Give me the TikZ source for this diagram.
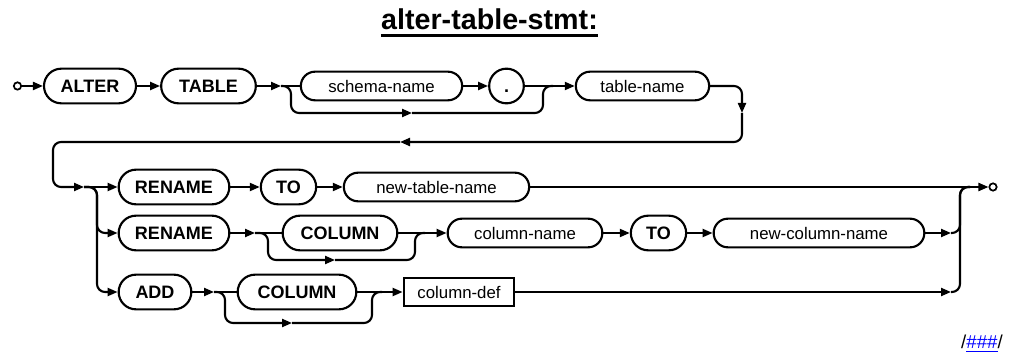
\documentclass[tikz,border=0pt]{standalone}
\usepackage{fontspec}
\setmainfont{Liberation Sans}
\usetikzlibrary{arrows.meta}

\tikzset{
  kw/.style={draw, line width=1.6pt, rounded corners=13pt, minimum height=26pt, inner sep=0pt,
    font=\fontsize{13.5}{16}\selectfont\bfseries},
  nt/.style={draw, line width=1.6pt, rounded corners=10.7pt, minimum height=21.5pt, inner sep=0pt,
    font=\fontsize{12.6}{15}\selectfont},
  ntbox/.style={draw, line width=1.6pt, minimum height=21.5pt, inner sep=0pt,
    font=\fontsize{12.6}{15}\selectfont},
  conn/.style={line width=1.6pt, rounded corners=6pt},
  tip/.style={-{Triangle[length=7.5pt,width=6pt]}},
  term/.style={circle, draw, line width=1.3pt, minimum size=5.5pt, inner sep=0pt}
}

\begin{document}
\begin{tikzpicture}[x=0.75pt,y=-0.75pt]
        \useasboundingbox (0,0) rectangle (1011,356);

        % Title
        \node[font=\fontsize{21.5}{26}\selectfont\bfseries, inner sep=0pt, anchor=base] (title) at (489.5,30) {alter-table-stmt:};
        \draw[line width=2.2pt] ([yshift=-3.8pt]title.base west) -- ([yshift=-3.8pt]title.base east);

        % Row 1
        \node[term] (start) at (17.5,86) {};
        \node[kw, minimum width=69pt] (alter) at (90,86) {ALTER};
        \node[kw, minimum width=71pt] (table) at (208.5,86) {TABLE};
        \node[nt, minimum width=121pt] (schema) at (381.5,86) {schema-name};
        \node[kw, circle, minimum size=26pt, text height=9.5pt, text depth=0pt] (dot) at (506.5,86) {.};
        \node[nt, minimum width=100pt] (tname) at (642.5,86) {table-name};

        \draw[conn,tip] (start) -- (alter);
        \draw[conn,tip] (alter) -- (table);
        \coordinate (sp1) at (281,86);
        \draw[conn,tip] (table) -- (sp1);
        \draw[conn] (sp1) -- (schema);
        \draw[conn,tip] (schema) -- (dot);
        \coordinate (by1) at (412,113);
        \draw[conn,tip] (sp1) -| (291,113) -- (by1);
        \coordinate (mg1) at (553,86);
        \draw[conn] (by1) -- (543,113) |- (mg1);
        \draw[conn] (dot) -- (mg1);
        \draw[conn,tip] (mg1) -- (tname);

        % Wrap to next line
        \coordinate (dn) at (742,113);
        \draw[conn,tip] (tname) -| (dn);
        \coordinate (lf) at (400,142);
        \draw[conn,tip] (dn) |- (lf);
        \coordinate (rt) at (84,187);
        \draw[conn,tip] (lf) -- (53,142) -- (53,187) -- (rt);

        % Row 2
        \node[kw, minimum width=83pt] (rename1) at (174,187) {RENAME};
        \node[kw, minimum width=41.5pt] (to1) at (288.5,187) {TO};
        \node[nt, minimum width=139pt] (newtable) at (436.5,187) {new-table-name};
        \node[term] (exit) at (993,187) {};

        \draw[conn,tip] (rt) -- (rename1);
        \draw[conn,tip] (rename1) -- (to1);
        \draw[conn,tip] (to1) -- (newtable);
        \draw[conn,tip] (newtable) -- (exit);

        % Row 3
        \node[kw, minimum width=83pt] (rename2) at (174,233) {RENAME};
        \node[kw, minimum width=86pt] (col1) at (340,233) {COLUMN};
        \node[nt, minimum width=116pt] (colname) at (525,233) {column-name};
        \node[kw, minimum width=41.5pt] (to2) at (658.5,233) {TO};
        \node[nt, minimum width=158pt] (newcol) at (819,233) {new-column-name};

        \draw[conn,tip] (rt) -| (97,233) -- (rename2);
        \coordinate (sp3) at (255,233);
        \draw[conn,tip] (rename2) -- (sp3);
        \draw[conn] (sp3) -- (col1);
        \coordinate (by3) at (335,260);
        \draw[conn,tip] (sp3) -| (268,260) -- (by3);
        \coordinate (mg3) at (425,233);
        \draw[conn] (by3) -- (415,260) |- (mg3);
        \draw[conn] (col1) -- (mg3);
        \draw[conn,tip] (mg3) -- (colname);
        \draw[conn,tip] (colname) -- (to2);
        \draw[conn,tip] (to2) -- (newcol);
        \coordinate (en3) at (951,233);
        \draw[conn,tip] (newcol) -- (en3);
        \draw[conn] (en3) -- (960,233) -- (960,187) -- (970,187);

        % Row 4
        \node[kw, minimum width=54.5pt] (add) at (155,292) {ADD};
        \node[kw, minimum width=89pt] (col2) at (297,292) {COLUMN};
        \node[ntbox, minimum width=83pt] (coldef) at (459,292) {column-def};

        \draw[conn,tip] (rt) -| (97,292) -- (add);
        \coordinate (sp4) at (214,292);
        \draw[conn,tip] (add) -- (sp4);
        \draw[conn] (sp4) -- (col2);
        \coordinate (by4) at (292,323);
        \draw[conn,tip] (sp4) -| (225,323) -- (by4);
        \coordinate (mg4) at (382,292);
        \draw[conn] (by4) -- (372,323) |- (mg4);
        \draw[conn] (col2) -- (mg4);
        \draw[conn,tip] (mg4) -- (coldef);
        \coordinate (en4) at (951,292);
        \draw[conn,tip] (coldef) -- (en4);
        \draw[conn] (en4) -- (960,292) -- (960,187) -- (970,187);

        % Footer
        \node[font=\fontsize{14}{17}\selectfont, inner sep=0pt, anchor=base east] (foot) at (1003,349) {/\textcolor{blue}{\underline{\#\#\#}}/};
    \end{tikzpicture}
\end{document}
